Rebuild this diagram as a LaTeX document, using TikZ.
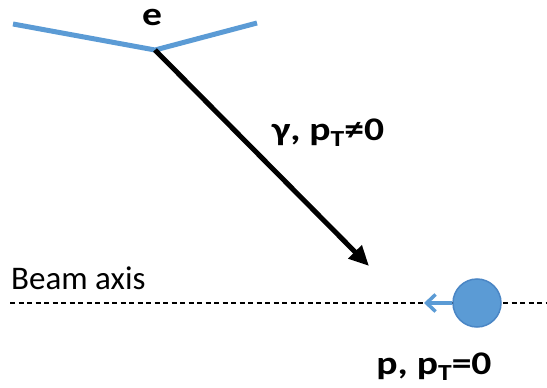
\documentclass[tikz,border=0pt]{standalone}
\usepackage{fontspec}
\setmainfont{Carlito}
\usetikzlibrary{arrows.meta}
\definecolor{ublue}{HTML}{5B9BD5}
\definecolor{ubluedark}{HTML}{4A86C5}
\newcommand{\mysub}[1]{\raisebox{-0.2em}{\fontsize{23}{23}\selectfont #1}}
\newcommand{\wide}[1]{\scalebox{1.2}[1]{#1}}
\begin{document}
\begin{tikzpicture}[x=1pt,y=-1pt,
  lbl/.style={font=\bfseries\fontsize{33}{38}\selectfont, inner sep=0pt},
  plain/.style={font=\fontsize{33}{38}\selectfont, inner sep=0pt},
  electron/.style={ublue, line width=5pt},
  photon/.style={line width=5pt, -{Triangle[length=20pt,width=18pt]}},
  axisline/.style={dash pattern=on 5pt off 3.5pt, line width=1.1pt},
  proton/.style={circle, fill=ublue, draw=ubluedark, line width=1.5pt, minimum size=48pt, inner sep=0pt},
  protonarrow/.style={ublue, line width=3.5pt, -{Straight Barb[length=9pt,width=17pt]}}
]
\useasboundingbox (0,0) rectangle (547,388);
% electron
\coordinate (eL) at (13,24);
\coordinate (v) at (155,50);
\coordinate (eR) at (257,23);
\draw[electron] (eL) -- (v) -- (eR);
\node[lbl, anchor=base] (e) at (152,25) {\wide{e}};
% photon
\coordinate (gtip) at (369,266);
\draw[photon] (v) -- (gtip);
\node[lbl, anchor=base] (g) at (328,140) {\wide{γ, p\mysub{T}≠0}};
% beam axis
\coordinate (ax0) at (10,303);
\coordinate (ax1) at (547,303);
\draw[axisline] (ax0) -- (ax1);
\node[plain, anchor=base west] (beam) at (11,289) {Beam axis};
% proton
\node[proton] (p) at (477,303) {};
\coordinate (ptip) at (424,303);
\draw[protonarrow] (p.west) -- (ptip);
\node[lbl, anchor=base] (pl) at (434,374) {\wide{p, p\mysub{T}=0}};
\end{tikzpicture}
\end{document}
